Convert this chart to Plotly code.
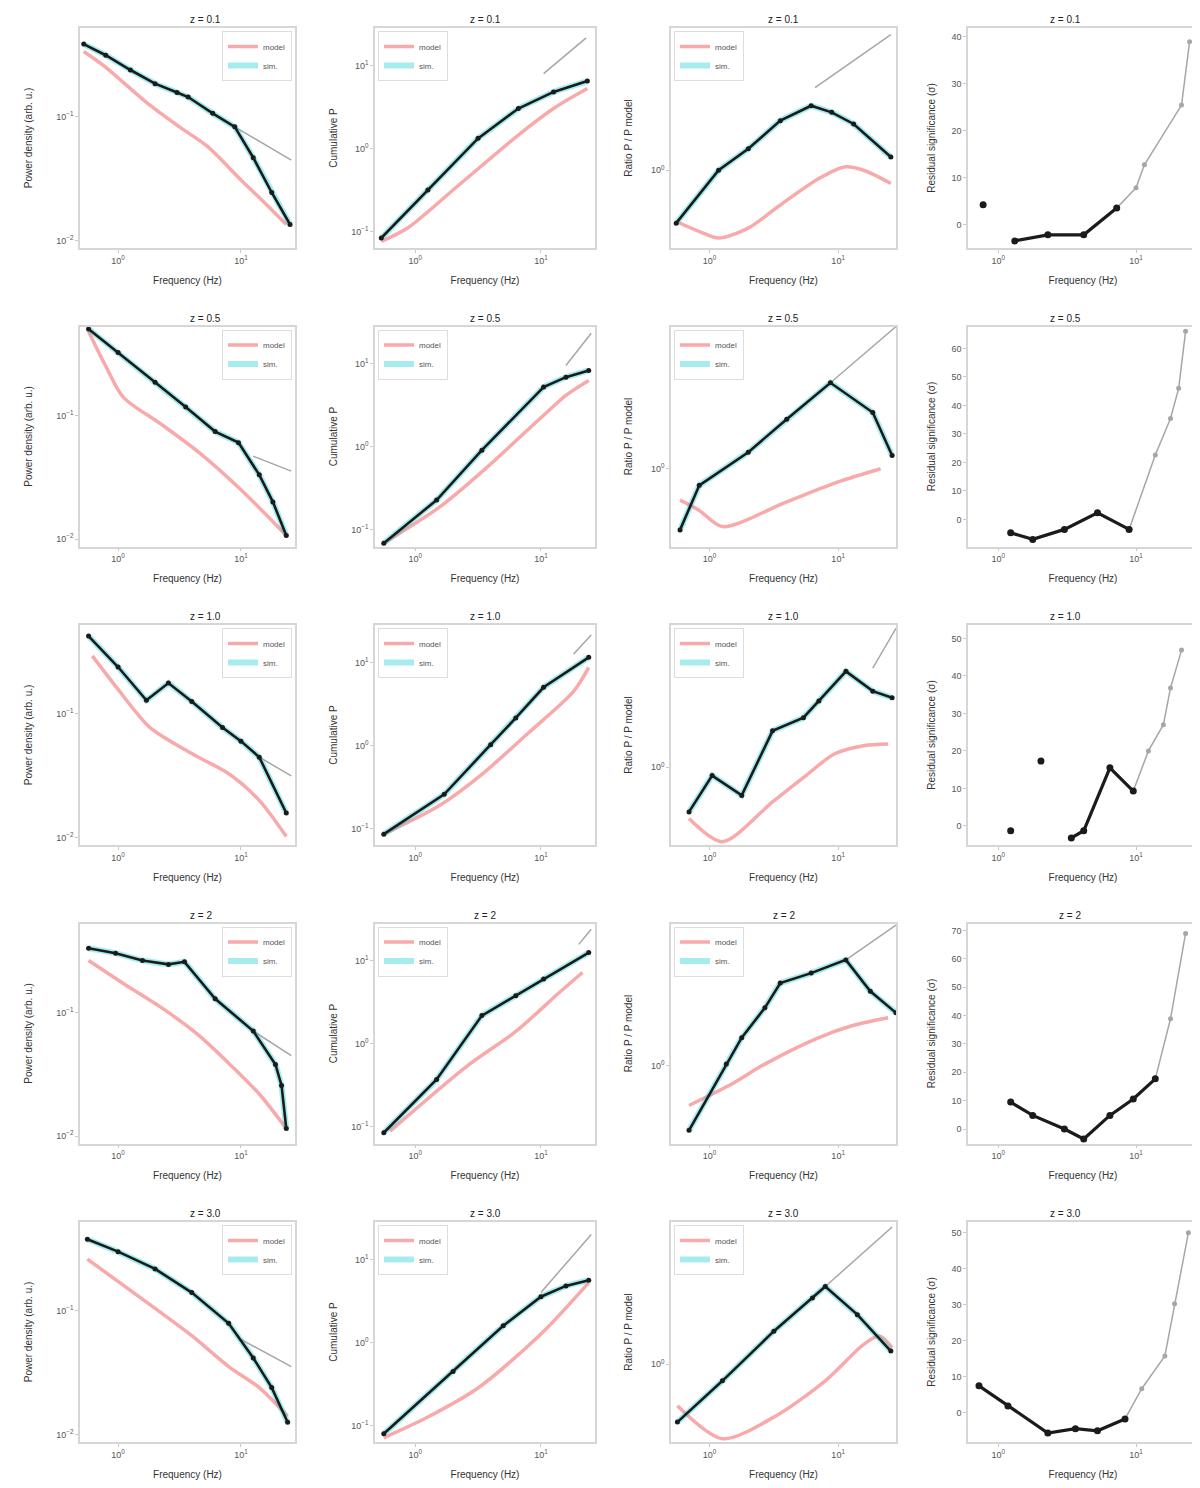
import plotly.graph_objects as go

# ---------------------------------------------------------------------------
# data, one sub-list per row
# ---------------------------------------------------------------------------
row_titles = ["z = 0.1", "z = 0.5", "z = 1.0", "z = 2", "z = 3.0"]

# column 1: power density (log-log, falling)
psd_data_f = [
    [0.525, 0.794, 1.26, 2.0, 3.02, 3.72, 5.89, 8.91, 12.6, 17.8, 25.1],
    [0.575, 1.0, 2.0, 3.55, 6.17, 9.55, 14.1, 18.2, 23.4],
    [0.575, 1.0, 1.70, 2.57, 3.98, 7.08, 10.0, 14.1, 23.4],
    [0.575, 0.955, 1.58, 2.57, 3.47, 6.17, 12.6, 19.1, 21.4, 23.4],
    [0.562, 1.0, 2.0, 3.98, 7.94, 12.6, 17.8, 24.0],
]
psd_data = [
    [0.389, 0.316, 0.240, 0.186, 0.158, 0.145, 0.107, 0.0832, 0.0468, 0.0245, 0.0135],
    [0.501, 0.324, 0.186, 0.117, 0.0741, 0.0603, 0.0331, 0.0200, 0.0107],
    [0.427, 0.240, 0.129, 0.178, 0.126, 0.0776, 0.0603, 0.0447, 0.0158],
    [0.331, 0.302, 0.263, 0.245, 0.257, 0.129, 0.0708, 0.0380, 0.0257, 0.0115],
    [0.380, 0.302, 0.219, 0.141, 0.0794, 0.0417, 0.0240, 0.0126],
]
psd_model_f = [
    [0.525, 0.776, 1.74, 3.16, 5.37, 10.0, 15.8, 23.4],
    [0.575, 0.794, 1.10, 2.24, 4.57, 10.0, 23.4],
    [0.617, 1.0, 1.82, 3.98, 8.13, 14.1, 23.4],
    [0.575, 1.12, 2.24, 4.47, 8.13, 14.1, 23.4],
    [0.562, 2.0, 3.98, 7.94, 14.1, 24.0],
]
psd_model = [
    [0.339, 0.257, 0.129, 0.0832, 0.0575, 0.0309, 0.0200, 0.0135],
    [0.479, 0.251, 0.141, 0.0851, 0.0501, 0.0251, 0.0107],
    [0.295, 0.158, 0.0776, 0.0479, 0.0324, 0.0200, 0.0102],
    [0.263, 0.170, 0.110, 0.0661, 0.0380, 0.0219, 0.0115],
    [0.263, 0.105, 0.0631, 0.0355, 0.0240, 0.0141],
]
psd_ext_f = [[8.91, 25.7], [12.6, 25.7], [14.1, 25.7], [12.6, 25.7], [10.0, 25.7]]
psd_ext = [[0.0832, 0.0447], [0.0468, 0.0355], [0.0447, 0.0316], [0.0708, 0.0447], [0.0589, 0.0355]]

# column 2: cumulative (log-log, rising)
cum_data_f = [
    [0.537, 1.26, 3.16, 6.61, 12.6, 23.4],
    [0.562, 1.48, 3.39, 10.5, 15.8, 24.0],
    [0.562, 1.70, 3.98, 6.31, 10.5, 24.0],
    [0.562, 1.48, 3.39, 6.31, 10.5, 24.0],
    [0.562, 2.0, 5.01, 10.0, 15.8, 24.0],
]
cum_data = [
    [0.0832, 0.316, 1.32, 3.02, 4.79, 6.46],
    [0.0692, 0.229, 0.912, 5.25, 6.92, 8.32],
    [0.0851, 0.257, 1.02, 2.14, 5.01, 11.5],
    [0.0851, 0.372, 2.19, 3.80, 6.03, 12.6],
    [0.0794, 0.447, 1.585, 3.55, 4.79, 5.62],
]
cum_model_f = [
    [0.537, 0.871, 2.19, 6.61, 12.6, 23.4],
    [0.562, 1.58, 3.39, 10.0, 15.8, 24.0],
    [0.562, 1.58, 3.39, 7.94, 18.2, 24.0],
    [0.631, 2.57, 6.31, 13.8, 21.4],
    [0.562, 1.26, 3.16, 10.0, 24.0],
]
cum_model = [
    [0.0759, 0.110, 0.355, 1.445, 3.02, 5.25],
    [0.0692, 0.191, 0.501, 2.24, 4.17, 6.31],
    [0.0851, 0.191, 0.447, 1.41, 4.47, 8.71],
    [0.0891, 0.537, 1.41, 4.07, 7.24],
    [0.0708, 0.126, 0.282, 1.26, 5.25],
]
cum_ext_f = [[10.5, 22.9], [15.8, 25.1], [18.2, 25.1], [20.0, 25.1], [10.0, 25.1]]
cum_ext = [[7.94, 21.4], [9.55, 23.4], [12.6, 21.4], [15.8, 24.0], [3.98, 19.95]]

# column 3: ratio (log-log, peaked)
ratio_data_f = [
    [0.55, 1.175, 2.0, 3.55, 6.17, 8.91, 13.2, 25.7],
    [0.589, 0.832, 2.0, 3.98, 8.71, 18.6, 26.3],
    [0.692, 1.047, 1.778, 3.09, 5.37, 7.08, 11.5, 18.6, 26.3],
    [0.692, 1.349, 1.778, 2.692, 3.548, 6.166, 11.48, 17.8, 28.18],
    [0.562, 1.259, 3.162, 6.31, 7.94, 14.1, 25.7],
]
ratio_data = [
    [0.479, 1.0, 1.349, 1.995, 2.455, 2.239, 1.905, 1.202],
    [0.427, 0.794, 1.259, 1.995, 3.31, 2.188, 1.202],
    [0.537, 0.891, 0.676, 1.66, 1.995, 2.512, 3.80, 2.884, 2.63],
    [0.407, 1.023, 1.479, 2.239, 3.162, 3.631, 4.365, 2.818, 2.089],
    [0.447, 0.794, 1.585, 2.512, 2.951, 1.995, 1.202],
]
ratio_model_f = [
    [0.55, 0.891, 1.175, 2.0, 3.55, 7.08, 11.2, 15.8, 25.7],
    [0.589, 0.832, 1.259, 3.98, 10.0, 21.4],
    [0.692, 1.259, 3.09, 5.62, 9.33, 15.8, 24.5],
    [0.692, 1.413, 2.692, 7.079, 12.6, 24.5],
    [0.562, 1.259, 3.162, 7.94, 15.8, 20.9, 26.3],
]
ratio_model = [
    [0.490, 0.417, 0.389, 0.447, 0.617, 0.891, 1.047, 1.0, 0.832],
    [0.646, 0.560, 0.447, 0.631, 0.832, 1.0],
    [0.490, 0.355, 0.617, 0.891, 1.202, 1.349, 1.380],
    [0.575, 0.759, 1.023, 1.479, 1.738, 1.950],
    [0.562, 0.355, 0.479, 0.794, 1.318, 1.480, 1.259],
]
ratio_ext_f = [[6.61, 25.7], [8.71, 28.2], [18.6, 28.2], [11.5, 28.2], [7.94, 26.3]]
ratio_ext = [[3.16, 6.61], [3.31, 7.24], [3.98, 6.92], [4.365, 7.08], [2.951, 6.76]]

# column 4: residual significance (log x, linear y)
resid_data_f = [
    [0.776, None, 1.318, 2.29, 4.17, 7.24],
    [1.23, 1.778, 3.02, 5.25, 8.91],
    [1.23, None, 2.04, None, 3.39, 4.17, 6.46, 9.55],
    [1.23, 1.778, 3.02, 4.17, 6.46, 9.55, 13.8],
    [0.724, 1.175, 2.29, 3.63, 5.25, 8.32],
]
resid_data = [
    [4.3, None, -3.4, -2.1, -2.1, 3.6],
    [-4.7, -7.0, -3.5, 2.3, -3.5],
    [-1.3, None, 17.3, None, -3.2, -1.3, 15.5, 9.3],
    [9.5, 4.8, 0.0, -3.5, 4.8, 10.6, 17.7],
    [7.5, 1.9, -5.6, -4.4, -5.0, -1.7],
]
resid_ext_f = [
    [7.24, 10.0, 11.5, 21.4, 24.5],
    [8.91, 13.8, 17.8, 20.4, 22.9],
    [9.55, 12.3, 15.8, 17.8, 21.4],
    [13.8, 17.8, 22.9],
    [8.32, 11.0, 16.2, 19.05, 24.0],
]
resid_ext = [
    [3.6, 7.9, 12.8, 25.5, 39.0],
    [-3.5, 22.6, 35.4, 46.0, 66.0],
    [9.3, 20.0, 27.0, 36.8, 46.9],
    [17.7, 38.9, 69.0],
    [-1.7, 6.7, 15.8, 30.3, 50.0],
]
resid_ticks = [
    [0, 10, 20, 30, 40],
    [0, 10, 20, 30, 40, 50, 60],
    [0, 10, 20, 30, 40, 50],
    [0, 10, 20, 30, 40, 50, 60, 70],
    [0, 10, 20, 30, 40, 50],
]

# ---------------------------------------------------------------------------
# layout helpers
# ---------------------------------------------------------------------------
W, H = 1200, 1488
cols_px = [(72, 287), (367, 587), (663, 888), (960, 1190)]
row_top, row_h, row_pitch = 20, 220, 298.5

x_ranges = [[-0.31, 1.44], [-0.32, 1.43], [-0.30, 1.45], [-0.22, 1.45]]
y_ranges = [[-2.06, -0.28], [-1.2, 1.45], [-0.47, 0.86]]
resid_yrange = [[-4.9, 41.9], [-9.5, 67.7], [-5.1, 53.6], [-5.1, 72.5], [-8.1, 53.0]]

y_titles = ["Power density (arb. u.)", "Cumulative P", "Ratio P / P model",
            "Residual significance (σ)"]
y_standoff = [22, 12, 16, 14]

RED = "rgba(246,140,140,0.75)"
CYAN = "rgba(0,200,210,0.35)"
BLACK = "#1b1b1b"
GRAY = "#a6a6a6"
FRAME = "#d6d6d6"

axis_common = dict(showline=True, mirror=True, linecolor=FRAME, linewidth=1.5,
                   ticks="outside", ticklen=3, tickcolor="#c8c8c8",
                   tickfont=dict(size=9, color="#555"), showgrid=False,
                   zeroline=False)


def sup(e):
    return "10<sup>%s</sup>" % str(e).replace("-", "−")


fig = go.Figure()
layout = {}
annotations = []

for r in range(5):
    top = row_top + row_pitch * r
    ydom = [1 - (top + row_h) / H, 1 - top / H]
    for c in range(4):
        idx = r * 4 + c + 1
        xa = "x" if idx == 1 else "x%d" % idx
        ya = "y" if idx == 1 else "y%d" % idx
        xkey = "xaxis" if idx == 1 else "xaxis%d" % idx
        ykey = "yaxis" if idx == 1 else "yaxis%d" % idx

        layout[xkey] = dict(axis_common, type="log", anchor=ya,
                            domain=[cols_px[c][0] / W, cols_px[c][1] / W],
                            range=x_ranges[c], tickvals=[1, 10],
                            ticktext=[sup(0), sup(1)],
                            title=dict(text="Frequency (Hz)", standoff=12,
                                       font=dict(size=10, color="#333")))
        ydict = dict(axis_common, anchor=xa, domain=ydom,
                     title=dict(text=y_titles[c], standoff=y_standoff[c],
                                font=dict(size=10, color="#333")))
        if c == 0:
            ydict.update(type="log", range=y_ranges[0], tickvals=[0.01, 0.1],
                         ticktext=[sup(-2), sup(-1)])
        elif c == 1:
            ydict.update(type="log", range=y_ranges[1], tickvals=[0.1, 1, 10],
                         ticktext=[sup(-1), sup(0), sup(1)])
        elif c == 2:
            ydict.update(type="log", range=y_ranges[2], tickvals=[1],
                         ticktext=[sup(0)])
        else:
            ydict.update(type="linear", range=resid_yrange[r],
                         tickvals=resid_ticks[r])
        layout[ykey] = ydict

        annotations.append(dict(text=row_titles[r], xref="paper", yref="paper",
                                x=(cols_px[c][0] + cols_px[c][1]) / 2 / W,
                                y=ydom[1], yanchor="bottom", yshift=1,
                                showarrow=False,
                                font=dict(size=10, color="#222")))

        if c < 3:
            n = r * 3 + c + 1
            lg = "legend" if n == 1 else "legend%d" % n
            df, dv, mf, mv, ef, ev = [
                (psd_data_f, psd_data, psd_model_f, psd_model, psd_ext_f, psd_ext),
                (cum_data_f, cum_data, cum_model_f, cum_model, cum_ext_f, cum_ext),
                (ratio_data_f, ratio_data, ratio_model_f, ratio_model, ratio_ext_f, ratio_ext),
            ][c]
            fig.add_trace(go.Scatter(x=ef[r], y=ev[r], mode="lines", xaxis=xa, yaxis=ya,
                                     line=dict(color=GRAY, width=1.5),
                                     showlegend=False, legend=lg))
            fig.add_trace(go.Scatter(x=mf[r], y=mv[r], mode="lines", xaxis=xa, yaxis=ya,
                                     line=dict(color=RED, width=3.5, shape="spline",
                                               smoothing=0.8),
                                     name="model", legend=lg))
            fig.add_trace(go.Scatter(x=df[r], y=dv[r], mode="lines", xaxis=xa, yaxis=ya,
                                     line=dict(color=CYAN, width=6),
                                     name="sim.", legend=lg))
            fig.add_trace(go.Scatter(x=df[r], y=dv[r], mode="lines+markers",
                                     xaxis=xa, yaxis=ya,
                                     line=dict(color=BLACK, width=2.6),
                                     marker=dict(size=5, color=BLACK),
                                     showlegend=False, legend=lg))
            if c == 0:
                lx, anchor = (cols_px[c][1] - 3) / W, "right"
            else:
                lx, anchor = (cols_px[c][0] + 3) / W, "left"
            layout[lg] = dict(x=lx, xanchor=anchor, y=1 - (top + 3) / H,
                              yanchor="top", font=dict(size=8, color="#555"),
                              bgcolor="rgba(255,255,255,0.85)",
                              bordercolor="#dddddd", borderwidth=1,
                              itemwidth=30, tracegroupgap=2)
        else:
            fig.add_trace(go.Scatter(x=resid_ext_f[r], y=resid_ext[r],
                                     mode="lines+markers", xaxis=xa, yaxis=ya,
                                     line=dict(color=GRAY, width=1.5),
                                     marker=dict(size=5, color=GRAY),
                                     showlegend=False))
            fig.add_trace(go.Scatter(x=resid_data_f[r], y=resid_data[r],
                                     mode="lines+markers", xaxis=xa, yaxis=ya,
                                     line=dict(color=BLACK, width=3.2),
                                     marker=dict(size=7, color=BLACK),
                                     connectgaps=False, showlegend=False))

fig.update_layout(layout)
fig.update_layout(width=W, height=H, margin=dict(l=0, r=0, t=0, b=0),
                  plot_bgcolor="white", paper_bgcolor="white",
                  font=dict(family="Liberation Sans, Arial, sans-serif", color="#333"),
                  annotations=annotations, showlegend=True)

fig.write_html("out.html")
